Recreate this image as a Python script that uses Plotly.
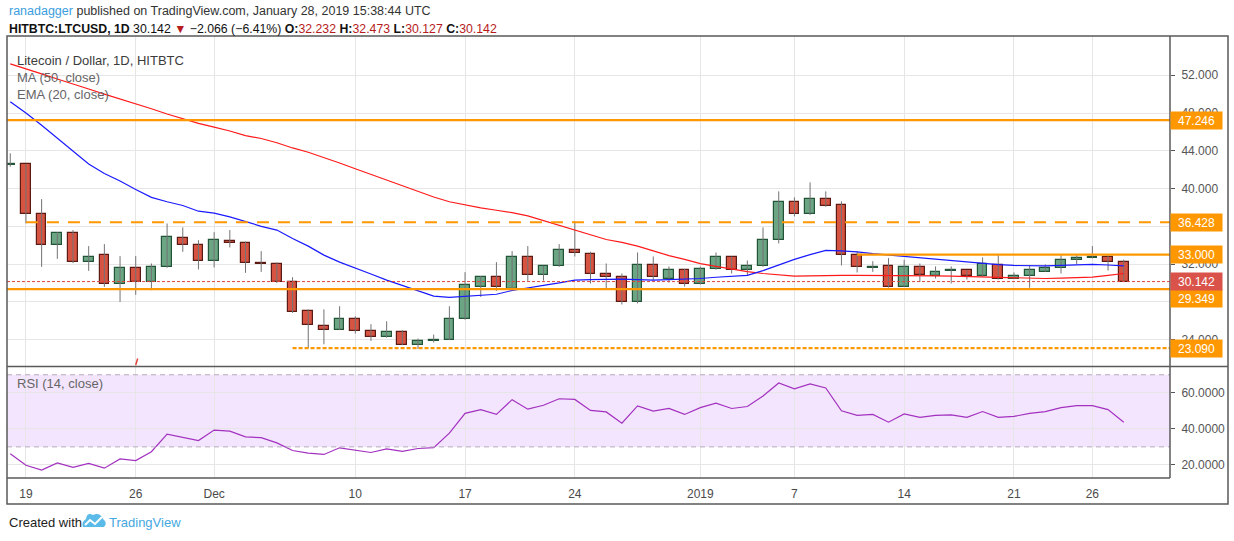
import pandas as pd
import plotly.graph_objects as go

# daily candles, Nov 18 2018 .. Jan 28 2019
dates = pd.date_range("2018-11-18", "2019-01-28", freq="D")

opens = [42.45, 42.56, 37.26, 33.97, 35.24, 32.17, 32.91, 29.94, 31.53, 30.11,
         31.64, 34.71, 33.97, 32.28, 34.39, 34.18, 32.06, 31.96, 30.05, 27.08,
         25.49, 25.06, 26.13, 24.96, 24.22, 24.85, 23.47, 23.90, 24.00, 26.13,
         29.62, 30.58, 29.41, 32.70, 30.79, 31.75, 33.44, 33.02, 30.90, 30.58,
         28.03, 31.85, 30.47, 31.32, 29.94, 31.43, 32.70, 31.32, 31.75, 34.50,
         38.53, 37.26, 38.85, 38.21, 32.91, 31.62, 31.75, 29.62, 31.64, 30.69,
         31.25, 31.32, 30.69, 31.85, 30.47, 30.69, 31.21, 31.53, 32.38, 32.59,
         32.70, 32.232]
highs = [43.73, 42.60, 38.88, 35.38, 35.60, 33.90, 34.11, 32.84, 32.84, 32.06,
         36.30, 35.88, 34.53, 35.38, 35.60, 34.39, 33.37, 32.17, 30.61, 27.20,
         27.20, 27.53, 26.47, 25.63, 25.94, 25.00, 24.11, 24.53, 27.53, 31.14,
         30.72, 32.20, 33.37, 33.90, 31.80, 34.11, 36.55, 33.30, 32.06, 31.00,
         33.23, 32.80, 31.75, 31.50, 31.75, 33.23, 32.80, 32.38, 35.88, 39.70,
         39.06, 40.65, 39.70, 38.64, 33.34, 32.31, 32.63, 32.45, 32.06, 31.75,
         31.75, 31.35, 32.70, 33.02, 31.11, 31.85, 31.96, 32.95, 32.95, 33.90,
         33.05, 32.473]
lows = [42.31, 36.31, 31.70, 32.55, 32.10, 31.28, 29.58, 27.99, 28.74, 29.23,
        31.60, 33.30, 31.43, 31.64, 33.76, 31.07, 31.17, 30.00, 26.83, 23.09,
        23.50, 25.00, 24.64, 23.86, 24.20, 23.40, 23.00, 23.69, 23.95, 26.10,
        28.52, 29.16, 29.40, 30.22, 30.25, 31.70, 32.80, 29.94, 29.30, 27.72,
        27.83, 30.29, 30.05, 29.62, 29.83, 31.40, 31.00, 30.79, 31.70, 34.18,
        37.05, 37.20, 38.05, 31.85, 31.11, 31.17, 29.50, 29.60, 30.11, 30.47,
        29.94, 30.36, 30.65, 30.36, 30.45, 29.49, 31.20, 31.00, 31.96, 32.59,
        31.32, 30.127]
closes = [42.56, 37.26, 33.97, 35.24, 32.17, 32.80, 29.94, 31.53, 30.11, 31.64,
          34.82, 33.97, 32.28, 34.53, 34.18, 32.06, 31.99, 30.05, 26.93, 25.59,
          25.06, 26.13, 24.96, 24.22, 24.85, 23.47, 23.90, 23.98, 26.13, 29.73,
          30.58, 29.52, 32.80, 30.79, 31.75, 33.44, 33.12, 30.90, 30.58, 27.93,
          31.85, 30.58, 31.32, 29.94, 31.43, 32.70, 31.32, 31.75, 34.50, 38.53,
          37.26, 38.85, 38.11, 32.91, 31.64, 31.66, 29.62, 31.64, 30.79, 31.21,
          31.32, 30.69, 31.96, 30.47, 30.69, 31.32, 31.53, 32.38, 32.59, 32.70,
          32.21, 30.142]

ma50 = [53.2, 52.7, 52.15, 51.6, 51.1, 50.55, 50.0, 49.5, 49.0, 48.45,
        47.9, 47.4, 46.9, 46.5, 46.1, 45.6, 45.3, 44.85, 44.3, 43.85,
        43.3, 42.7, 42.1, 41.5, 40.9, 40.3, 39.7, 39.1, 38.6, 38.25,
        37.95, 37.7, 37.45, 37.1, 36.6, 36.05, 35.6, 35.1, 34.6, 34.3,
        33.9, 33.4, 32.9, 32.5, 32.05, 31.75, 31.45, 31.2, 31.0, 30.85,
        30.72, 30.75, 30.8, 30.8, 30.8, 30.8, 30.8, 30.8, 30.78, 30.75,
        30.72, 30.68, 30.62, 30.58, 30.53, 30.48, 30.47, 30.5, 30.55, 30.62,
        30.8, 31.0]
ema20 = [49.2, 48.0, 46.7, 45.3, 43.9, 42.6, 41.6, 40.8, 39.9, 39.06,
         38.6, 38.2, 37.6, 37.4, 37.0, 36.5, 36.0, 35.6, 34.7, 33.9,
         32.95, 32.2, 31.6, 30.95, 30.3, 29.75, 29.2, 28.6, 28.46, 28.6,
         28.7, 28.8, 29.2, 29.5, 29.75, 30.0, 30.3, 30.35, 30.4, 30.4,
         30.35, 30.3, 30.35, 30.4, 30.47, 30.6, 30.7, 30.8, 31.3, 31.9,
         32.5, 33.0, 33.45, 33.4, 33.3, 33.1, 32.95, 32.8, 32.65, 32.5,
         32.35, 32.2, 32.05, 31.95, 31.85, 31.8, 31.8, 31.85, 31.9, 31.96,
         31.9, 31.8]
rsi = [26.2, 19.8, 17.1, 21.1, 18.6, 20.8, 18.2, 23.3, 22.4, 27.3,
       37.1, 35.3, 33.5, 39.3, 38.7, 35.6, 35.1, 32.2, 28.0, 26.5,
       25.8, 29.5, 28.0, 26.9, 28.9, 27.5, 29.1, 29.6, 37.6, 48.6,
       50.7, 48.0, 56.2, 50.9, 53.1, 56.7, 56.3, 50.2, 49.4, 43.1,
       52.7, 49.8, 51.3, 48.0, 51.8, 54.3, 51.3, 52.4, 58.2, 65.4,
       62.2, 64.9, 62.7, 50.0, 47.5, 48.0, 43.7, 48.3, 46.4, 47.5,
       47.8, 46.4, 49.6, 46.4, 46.9, 48.6, 49.6, 51.8, 52.9, 52.9,
       50.7, 43.7]

# drawn levels: (price, start date or None for full width, style)
levels = [(47.246, None, "solid"),
          (36.428, "2018-11-19", "dash"),
          (33.000, "2019-01-11", "solid"),
          (29.349, None, "solid"),
          (23.090, "2018-12-06", "dot")]
last_price = 30.142

tick_dates = ["2018-11-19", "2018-11-26", "2018-12-01", "2018-12-10", "2018-12-17",
              "2018-12-24", "2019-01-01", "2019-01-07", "2019-01-14", "2019-01-21",
              "2019-01-26"]
tick_text = ["19", "26", "Dec", "10", "17", "24", "2019", "7", "14", "21", "26"]
price_ticks = [24, 28, 32, 36, 40, 44, 48, 52]
rsi_ticks = [20, 40, 60]

# pixel geometry of the plotting area
L, R, T, B = 7, 1170, 36, 478
W, H = R - L, B - T


def px(x):
    return (x - L) / W


def py(y):
    return (B - y) / H


FONT = "Liberation Sans, Arial, sans-serif"
ORANGE = "#ff9800"
UP_FILL, UP_LINE = "#6ba583", "#225437"
DN_FILL, DN_LINE = "#d75442", "#5b1a13"

x_start = dates[0] - pd.Timedelta(hours=5)
x_end = dates[0] + pd.Timedelta(days=73.95)

fig = go.Figure()

# wicks
wx, wy = [], []
for d, h, l in zip(dates, highs, lows):
    wx += [d, d, None]
    wy += [l, h, None]
fig.add_trace(go.Scatter(x=wx, y=wy, mode="lines", line=dict(color="#737375", width=1),
                         hoverinfo="skip", xaxis="x", yaxis="y"))

# bodies
for up in (True, False):
    sel = [i for i in range(len(dates)) if (closes[i] >= opens[i]) == up]
    fig.add_trace(go.Bar(
        x=[dates[i] for i in sel],
        base=[min(opens[i], closes[i]) for i in sel],
        y=[max(abs(closes[i] - opens[i]), 0.04) for i in sel],
        width=0.62 * 86400000,
        marker=dict(color=UP_FILL if up else DN_FILL,
                    line=dict(color=UP_LINE if up else DN_LINE, width=1.2)),
        xaxis="x", yaxis="y"))

fig.add_trace(go.Scatter(x=dates, y=ma50, mode="lines", line=dict(color="#ff1a1a", width=1.2),
                         xaxis="x", yaxis="y"))
fig.add_trace(go.Scatter(x=dates, y=ema20, mode="lines", line=dict(color="#1a1aff", width=1.2),
                         xaxis="x", yaxis="y"))
fig.add_trace(go.Scatter(x=dates, y=rsi, mode="lines", line=dict(color="#a331c0", width=1.2),
                         xaxis="x2", yaxis="y2"))

shapes = []
# rsi band
shapes.append(dict(type="rect", xref="x2 domain", yref="y2", x0=0, x1=1, y0=30, y1=70,
                   fillcolor="#f3e5fd", line=dict(width=0), layer="below"))
for v in (30, 70):
    shapes.append(dict(type="line", xref="x2 domain", yref="y2", x0=0, x1=1, y0=v, y1=v,
                       line=dict(color="#b5adbd", width=1, dash="5px,4px")))

dash_map = {"solid": "solid", "dash": "12px,9px", "dot": "4px,2px"}
for v, start, style in levels:
    shapes.append(dict(type="line", xref="x", yref="y", x0=start or x_start,
                       x1=x_end, y0=v, y1=v,
                       line=dict(color=ORANGE, width=2.2, dash=dash_map[style])))
shapes.append(dict(type="line", xref="x domain", yref="y", x0=0, x1=1, y0=last_price, y1=last_price,
                   line=dict(color="#e0443a", width=1, dash="3px,2px")))

# frame
FR = dict(color="#5a5a5a", width=1.5)
shapes.append(dict(type="rect", xref="paper", yref="paper", x0=px(7), x1=px(1228),
                   y0=py(504), y1=py(36), line=FR))
shapes.append(dict(type="line", xref="paper", yref="paper", x0=1, x1=1, y0=0, y1=1, line=FR))
shapes.append(dict(type="line", xref="paper", yref="paper", x0=0, x1=1, y0=0, y1=0, line=FR))
shapes.append(dict(type="line", xref="paper", yref="paper", x0=0, x1=px(1228),
                   y0=py(366.5), y1=py(366.5), line=FR))
# small red mark near the pane bottom
shapes.append(dict(type="line", xref="x", yref="y", x0=dates[8], x1=dates[8] + pd.Timedelta(hours=3),
                   y0=21.3, y1=22.0, line=dict(color="#e0443a", width=1.5)))


# TradingView logo in the footer
def pt(x, y):
    return f"{px(x):.5f},{py(y):.5f}"


cloud = (f"M{pt(83, 527)} L{pt(104, 527)} Q{pt(108, 523)} {pt(103, 519)} "
         f"Q{pt(100, 512)} {pt(93, 515)} Q{pt(87, 512)} {pt(86, 519)} Q{pt(81, 522)} {pt(83, 527)} Z")
shapes.append(dict(type="path", xref="paper", yref="paper", path=cloud,
                   fillcolor="#5bbbe8", line=dict(width=0)))
shapes.append(dict(type="path", xref="paper", yref="paper",
                   path=f"M{pt(85, 525)} L{pt(90, 520)} L{pt(95, 524)} L{pt(102, 517)}",
                   line=dict(color="white", width=2)))

ann = []
ann.append(dict(xref="paper", yref="paper", x=px(7), y=py(11), xanchor="left", yanchor="middle",
                showarrow=False, font=dict(family=FONT, size=12.5, color="#333"),
                text="<span style='color:#3b9ee0'>ranadagger</span> published on TradingView.com, "
                     "January 28, 2019 15:38:44 UTC"))
red = "#b71c1c"
ann.append(dict(xref="paper", yref="paper", x=px(7), y=py(29), xanchor="left", yanchor="middle",
                showarrow=False, font=dict(family=FONT, size=12.3, color="#111"),
                text=f"<b>HITBTC:LTCUSD, 1D</b> 30.142 <span style='color:{red}'>▼</span> −2.066 (−6.41%) "
                     f"<b>O:</b><span style='color:{red}'>32.232</span> "
                     f"<b>H:</b><span style='color:{red}'>32.473</span> "
                     f"<b>L:</b><span style='color:{red}'>30.127</span> "
                     f"<b>C:</b><span style='color:{red}'>30.142</span>"))
for text, y, col in [("Litecoin / Dollar, 1D, HITBTC", 60, "#3c3c3c"),
                     ("MA (50, close)", 77, "#666"),
                     ("EMA (20, close)", 95, "#666")]:
    ann.append(dict(xref="paper", yref="paper", x=px(15), y=py(y), xanchor="left", yanchor="middle",
                    showarrow=False, text=text, font=dict(family=FONT, size=13, color=col)))
ann.append(dict(xref="paper", yref="paper", x=px(15), y=py(383), xanchor="left", yanchor="middle",
                showarrow=False, text="RSI (14, close)", font=dict(family=FONT, size=13, color="#666")))

shift = {29.349: -9}
for v, _, _ in levels:
    ann.append(dict(xref="paper", yref="y", x=px(1170), y=v, yshift=shift.get(v, 0),
                    xanchor="left", yanchor="middle", showarrow=False, text=f"{v:.3f}",
                    width=47, height=13, borderpad=2, bgcolor=ORANGE,
                    font=dict(family=FONT, size=12, color="white")))
ann.append(dict(xref="paper", yref="y", x=px(1170), y=last_price, xanchor="left", yanchor="middle",
                showarrow=False, text=f"{last_price:.3f}", width=47, height=13, borderpad=2,
                bgcolor="#d9534a", font=dict(family=FONT, size=12, color="white")))

ann.append(dict(xref="paper", yref="paper", x=px(7), y=py(522), xanchor="left", yanchor="middle",
                showarrow=False, font=dict(family=FONT, size=13, color="#222"), text="Created with"))
ann.append(dict(xref="paper", yref="paper", x=px(107), y=py(522), xanchor="left", yanchor="middle",
                showarrow=False, font=dict(family=FONT, size=13, color="#45a8e0"), text="TradingView"))

grid = "#e6e6e6"
fig.update_layout(
    width=1234, height=541, autosize=False,
    margin=dict(l=L, r=1234 - R, t=T, b=541 - B),
    paper_bgcolor="white", plot_bgcolor="white",
    showlegend=False, barmode="overlay", bargap=0,
    font=dict(family=FONT, size=12, color="#4a4a4a"),
    xaxis=dict(domain=[0, 1], anchor="y", matches="x2", showticklabels=False,
               tickvals=tick_dates, showgrid=True, gridcolor=grid, zeroline=False,
               range=[x_start, x_end], ticks=""),
    xaxis2=dict(domain=[0, 1], anchor="y2", tickvals=tick_dates, ticktext=tick_text,
                showgrid=True, gridcolor=grid, zeroline=False, range=[x_start, x_end],
                ticks="", ticklabelstandoff=7, tickfont=dict(size=12, color="#4a4a4a")),
    yaxis=dict(domain=[py(366), 1], anchor="x", side="right", range=[21.2, 56.16],
               tickvals=price_ticks, ticktext=[f"{v:.3f}" for v in price_ticks],
               showgrid=True, gridcolor=grid, zeroline=False, ticks="outside", ticklen=4,
               ticklabelstandoff=4, tickcolor="#555", tickfont=dict(size=12, color="#555")),
    yaxis2=dict(domain=[0, py(367)], anchor="x2", side="right", range=[12.75, 74.3],
                tickvals=rsi_ticks, ticktext=[f"{v:.4f}" for v in rsi_ticks],
                showgrid=True, gridcolor=grid, zeroline=False, ticks="outside", ticklen=4,
                ticklabelstandoff=4, tickcolor="#555", tickfont=dict(size=12, color="#555")),
    shapes=shapes, annotations=ann,
)

fig.write_html("out.html", config={"displayModeBar": False},
               post_script="document.body.style.margin='0';")
